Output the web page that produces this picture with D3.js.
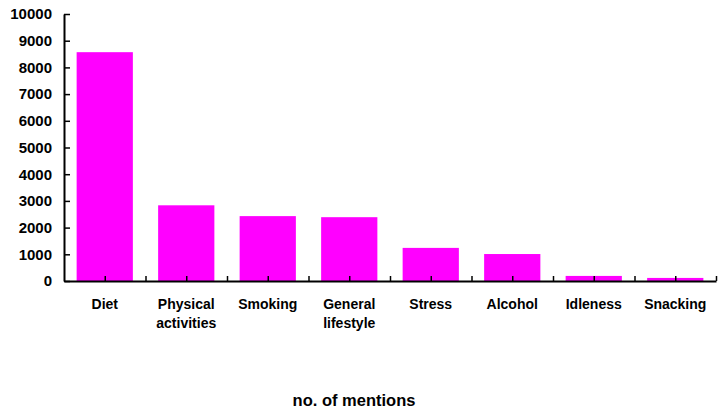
<!DOCTYPE html>
<html>
<head>
<meta charset="utf-8">
<script src="https://cdn.jsdelivr.net/npm/d3@7"></script>
<style>
  html, body { margin: 0; padding: 0; background: #fff; }
  svg { display: block; font-family: "Liberation Sans", Arial, sans-serif; font-weight: bold; }
</style>
</head>
<body>
<svg id="chart" width="725" height="409"></svg>
<script>
// Mentions per lifestyle factor
const categories = ["Diet", "Physical activities", "Smoking", "General lifestyle", "Stress", "Alcohol", "Idleness", "Snacking"];
const labelLines = [["Diet"], ["Physical", "activities"], ["Smoking"], ["General", "lifestyle"], ["Stress"], ["Alcohol"], ["Idleness"], ["Snacking"]];
const mentions = [8570, 2835, 2430, 2390, 1240, 1010, 190, 115];
const yTicks = [0, 1000, 2000, 3000, 4000, 5000, 6000, 7000, 8000, 9000, 10000];
const axisTitle = "no. of mentions";

const svg = d3.select("#chart");
const plotLeft = 64, plotRight = 716, plotTop = 14, plotBottom = 281;

const x = d3.scaleBand().domain(categories).range([plotLeft, plotRight])
  .paddingInner(0.31).paddingOuter(0.155);
const y = d3.scaleLinear().domain([0, 10000]).range([plotBottom, plotTop]);

// bars
svg.append("g").selectAll("rect").data(categories).join("rect")
  .attr("x", d => x(d))
  .attr("width", x.bandwidth())
  .attr("y", (d, i) => y(mentions[i]))
  .attr("height", (d, i) => y(0) - y(mentions[i]))
  .attr("fill", "#ff00ff");

// y axis, ticks pointing into the plot
const yAxis = svg.append("g").attr("transform", `translate(${plotLeft},0)`)
  .call(d3.axisLeft(y).tickValues(yTicks).tickSizeInner(-6).tickSizeOuter(0).tickPadding(12).tickFormat(d3.format("d")));
yAxis.select(".domain").attr("stroke", "#000").attr("stroke-width", 2);
yAxis.selectAll(".tick line").attr("stroke", "#000").attr("stroke-width", 1.5);
yAxis.selectAll(".tick text").attr("font-size", 15).attr("font-weight", "bold").attr("fill", "#000")
  .attr("font-family", "Liberation Sans, Arial, sans-serif");

// x axis: ticks at category centres and boundaries, pointing up
const step = x.step();
const xTickPos = [];
categories.forEach(c => { xTickPos.push(x(c) + x.bandwidth() / 2); xTickPos.push(x(c) - x.paddingInner() * step / 2 + step); });
const xLin = d3.scaleLinear().domain([plotLeft, plotRight]).range([plotLeft, plotRight]);
const xAxis = svg.append("g").attr("transform", `translate(0,${plotBottom})`)
  .call(d3.axisBottom(xLin).tickValues(xTickPos).tickSizeInner(-5).tickSizeOuter(0).tickFormat(""));
xAxis.select(".domain").attr("stroke", "#000").attr("stroke-width", 2);
xAxis.selectAll(".tick line").attr("stroke", "#000").attr("stroke-width", 1.5);

// category labels
const lbl = svg.append("g").attr("font-size", 14).attr("text-anchor", "middle").attr("fill", "#000");
categories.forEach((c, i) => {
  const t = lbl.append("text").attr("x", x(c) + x.bandwidth() / 2).attr("y", 309);
  labelLines[i].forEach((line, j) => {
    t.append("tspan").attr("x", x(c) + x.bandwidth() / 2).attr("dy", j === 0 ? 0 : 19).text(line);
  });
});

// axis title
svg.append("text").attr("x", 354).attr("y", 406).attr("text-anchor", "middle")
  .attr("font-size", 16.5).attr("fill", "#000").text(axisTitle);
</script>
</body>
</html>
